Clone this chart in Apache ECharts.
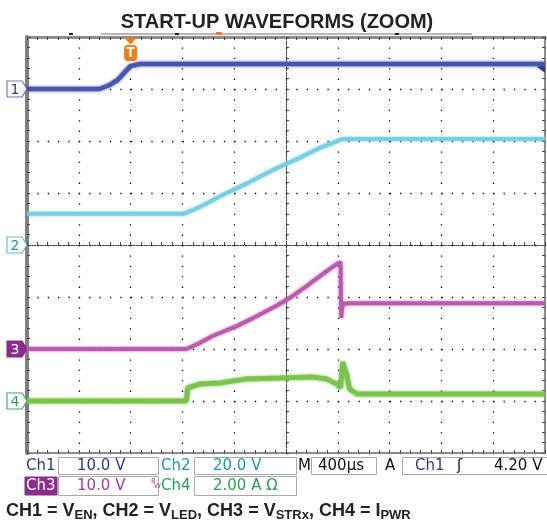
<!DOCTYPE html>
<html><head><meta charset="utf-8">
<script src="https://cdn.jsdelivr.net/npm/echarts@6/dist/echarts.min.js"></script>
<style>html,body{margin:0;padding:0;background:#fff}#c{width:547px;height:523px}</style>
</head><body><div id="c"></div>
<script>
// ---- data (time in µs relative to trigger, 400 µs/div) ----
const timeRangeUs = [-800, 3200];
const timePerDivUs = 400;

const ch1TimeUs = [-800, -240, -162, -100, -46, -2, 70, 3200];
const ch1Volts  = [0, 0, 0.77, 1.73, 3.2, 4.4, 4.8, 4.8];

const ch2TimeUs = [-800, 409, 533, 726, 919, 1112, 1305, 1459, 1575, 1637, 3200];
const ch2Volts  = [12, 12, 14.6, 19.6, 24.2, 29.2, 33.5, 37.3, 39.6, 40.8, 40.8];

const ch3TimeUs = [-800, 432, 533, 633, 819, 973, 1127, 1228, 1359, 1483, 1591, 1622, 1626, 1637, 1700, 3200];
const ch3Volts  = [0, 0, 1.15, 2.5, 4.4, 6.3, 8.3, 9.8, 12.1, 14.4, 16.3, 16.7, 6.0, 8.7, 8.8, 8.8];

const ch4TimeUs = [-800, 432, 440, 533, 687, 896, 1151, 1405, 1514, 1591, 1622, 1637, 1668, 1691, 1745, 3200];
const ch4Amps   = [0, 0, 0.5, 0.65, 0.69, 0.85, 0.88, 0.92, 0.85, 0.65, 0.5, 1.5, 1.04, 0.46, 0.27, 0.27];

const channelNames   = ['Ch1', 'Ch2', 'Ch3', 'Ch4'];
const channelPerDiv  = [10, 20, 10, 2];      // V/div, V/div, V/div, A/div
const channelGround  = [3, 0, -2, -3];       // ground marker position (div from centre)
const triggerLevelV  = 4.20;                  // Ch1 rising edge

const infoRow1 = ['Ch1', '10.0 V', 'Ch2', '20.0 V', 'M', '400µs', 'A', 'Ch1', 'ʃ', '4.20 V'];
const infoRow2 = ['Ch3', '10.0 V', 'Ch4', '2.00 A Ω'];

// ---- styling ----
const traceColors = ['#4453ab', '#74cde0', '#b857ac', '#78c24a'];
const traceWidths = [4.5, 4, 4, 5];
const markerFill  = ['#fff', '#fff', '#8b2b8c', '#fff'];
const markerStroke= ['#6a74c0', '#5bbfc4', '#8b2b8c', '#3aaa6a'];
const markerText  = ['#2b3a8f', '#1a9aa0', '#fff', '#2a9e5a'];

const chTimes = [ch1TimeUs, ch2TimeUs, ch3TimeUs, ch4TimeUs];
const chVals  = [ch1Volts, ch2Volts, ch3Volts, ch4Amps];

const G = {left: 27, top: 37, width: 518, height: 416};
const pent = 'path://M0,0L15,0L20,8L15,16L0,16Z';

const series = chTimes.map((ts, i) => {
  const s = {
    name: channelNames[i], type: 'line', xAxisIndex: 0, yAxisIndex: 0,
    showSymbol: false, symbol: 'none', clip: true, z: 5 + i,
    data: ts.map((t, k) => [t, channelGround[i] + chVals[i][k] / channelPerDiv[i]]),
    lineStyle: {color: traceColors[i], width: traceWidths[i], opacity: 0.9,
      shadowColor: traceColors[i], shadowBlur: 3},
    markPoint: {
      silent: true, animation: false,
      data: [{
        coord: [timeRangeUs[0], channelGround[i]], symbol: pent, symbolSize: [20, 16],
        symbolOffset: [-10, 0], symbolKeepAspect: false,
        itemStyle: {color: markerFill[i], borderColor: markerStroke[i], borderWidth: 1},
        label: {show: true, position: 'inside', formatter: String(i + 1), color: markerText[i],
          fontSize: 14, fontFamily: 'DejaVu Sans', offset: [-2, 1]}
      }]
    }
  };
  if (i === 0) {
    s.markPoint.data.push(
      {coord: [0, 4], symbol: 'triangle', symbolRotate: 180, symbolSize: [13, 7], symbolOffset: [0, 4],
        itemStyle: {color: '#f07d1a'}, label: {show: false}},
      {coord: [0, 4], symbol: 'roundRect', symbolSize: [13, 16], symbolOffset: [0, 16],
        itemStyle: {color: '#f07d1a'},
        label: {show: true, position: 'inside', formatter: 'T', color: '#fff', fontSize: 14,
          fontWeight: 'bold', fontFamily: 'Liberation Sans'}},
      {coord: [timeRangeUs[1], channelGround[0] + triggerLevelV / channelPerDiv[0]], symbol: 'triangle',
        symbolRotate: 90, symbolSize: [11, 8], symbolOffset: [-4, 0],
        itemStyle: {color: '#2b3a8f'}, label: {show: false}}
    );
  }
  return s;
});

const dotsH = {color: '#000', width: 1.3, type: [1.3, 9.06], opacity: 1};
const dotsV = {color: '#000', width: 1.3, type: [1.3, 9.1], opacity: 1};
const tickSt = {color: '#444', width: 1};
const centerSt = {color: '#333', width: 1, type: [1, 1.6]};

const xBase = {type: 'value', min: timeRangeUs[0], max: timeRangeUs[1], interval: timePerDivUs,
  axisLabel: {show: false}, gridIndex: 0};
const yBase = {type: 'value', min: -4, max: 4, interval: 1, axisLabel: {show: false}, gridIndex: 0};

const option = {
  animation: false,
  backgroundColor: '#fff',
  grid: [Object.assign({outerBoundsMode: 'none', containLabel: false}, G),
         Object.assign({outerBoundsMode: 'none', containLabel: false}, G)],
  xAxis: [
    Object.assign({}, xBase, {position: 'bottom',
      axisLine: {show: true, onZero: false, lineStyle: {color: '#8c8c8c', width: 2}},
      axisTick: {show: true, inside: true, length: 3, lineStyle: tickSt},
      minorTick: {show: true, splitNumber: 5, length: 3, lineStyle: tickSt},
      splitLine: {show: true, lineStyle: dotsV}}),
    Object.assign({}, xBase, {position: 'top',
      axisLine: {show: true, onZero: false, lineStyle: {color: '#8c8c8c', width: 3}},
      axisTick: {show: true, inside: true, length: 3, lineStyle: tickSt},
      minorTick: {show: true, splitNumber: 5, length: 3, lineStyle: tickSt},
      splitLine: {show: false}}),
    {type: 'value', gridIndex: 1, min: -5, max: 5, interval: 1, axisLabel: {show: false},
      axisLine: {show: true, onZero: true, onZeroAxisIndex: 2, lineStyle: centerSt},
      axisTick: {show: true, inside: true, length: 3, lineStyle: tickSt},
      minorTick: {show: true, splitNumber: 5, length: 3, lineStyle: tickSt},
      splitLine: {show: false}},
    {type: 'value', gridIndex: 1, min: -5, max: 5, interval: 1, axisLabel: {show: false}, position: 'top',
      axisLine: {show: true, onZero: true, onZeroAxisIndex: 2, lineStyle: centerSt},
      axisTick: {show: true, inside: false, length: 3, lineStyle: tickSt},
      minorTick: {show: true, splitNumber: 5, length: 3, lineStyle: tickSt},
      splitLine: {show: false}}
  ],
  yAxis: [
    Object.assign({}, yBase, {position: 'left',
      axisLine: {show: true, onZero: false, lineStyle: {color: '#808080', width: 4}},
      axisTick: {show: true, inside: true, length: 3, lineStyle: tickSt},
      minorTick: {show: true, splitNumber: 5, length: 3, lineStyle: tickSt},
      splitLine: {show: true, lineStyle: dotsH}}),
    Object.assign({}, yBase, {position: 'right',
      axisLine: {show: true, onZero: false, lineStyle: {color: '#8c8c8c', width: 2}},
      axisTick: {show: true, inside: true, length: 3, lineStyle: tickSt},
      minorTick: {show: true, splitNumber: 5, length: 3, lineStyle: tickSt},
      splitLine: {show: false}}),
    {type: 'value', gridIndex: 1, min: -4, max: 4, interval: 1, axisLabel: {show: false},
      axisLine: {show: true, onZero: true, onZeroAxisIndex: 2, lineStyle: centerSt},
      axisTick: {show: true, inside: true, length: 3, lineStyle: tickSt},
      minorTick: {show: true, splitNumber: 5, length: 3, lineStyle: tickSt},
      splitLine: {show: false}},
    {type: 'value', gridIndex: 1, min: -4, max: 4, interval: 1, axisLabel: {show: false}, position: 'right',
      axisLine: {show: true, onZero: true, onZeroAxisIndex: 2, lineStyle: centerSt},
      axisTick: {show: true, inside: false, length: 3, lineStyle: tickSt},
      minorTick: {show: true, splitNumber: 5, length: 3, lineStyle: tickSt},
      splitLine: {show: false}}
  ],
  series: series,
  graphic: buildGraphics()
};

function txt(x, y, s, color, size, extra) {
  return Object.assign({type: 'text', x: x, y: y, silent: true, z: 10,
    style: {text: s, fill: color, font: (size || 15) + 'px "DejaVu Sans"', textVerticalAlign: 'middle'}}, extra || {});
}
function box(x, y, w, h, fill, stroke) {
  return {type: 'rect', silent: true, z: 9, shape: {x: x, y: y, width: w, height: h},
    style: {fill: fill || 'none', stroke: stroke || '#a8a8a8', lineWidth: 1}};
}

function buildGraphics() {
  const r1 = 466, r2 = 486;
  const g = [];
  g.push({type: 'text', x: 277, y: 22, silent: true,
    style: {text: 'START-UP WAVEFORMS (ZOOM)', fill: '#222', font: 'bold 20px "Liberation Sans"',
      textAlign: 'center', textVerticalAlign: 'middle'}});
  g.push({type: 'rect', silent: true, shape: {x: 101, y: 33, width: 371, height: 2}, style: {fill: '#b8b8b8'}});
  g.push({type: 'rect', silent: true, shape: {x: 69, y: 33, width: 4, height: 2}, style: {fill: '#222'}});
  g.push({type: 'rect', silent: true, shape: {x: 175, y: 33, width: 4, height: 2}, style: {fill: '#222'}});
  g.push({type: 'rect', silent: true, shape: {x: 395, y: 33, width: 4, height: 2}, style: {fill: '#222'}});
  g.push({type: 'rect', silent: true, shape: {x: 216, y: 32, width: 6, height: 3}, style: {fill: '#f07d1a'}});

  g.push(box(58.5, 457.5, 100, 17));
  g.push(box(194.5, 457.5, 102, 17));
  g.push(box(311.5, 457.5, 65, 17));
  g.push(box(402.5, 457.5, 150, 17));
  g.push(txt(26, r1, infoRow1[0], '#2b3a8f'));
  g.push(txt(77, r1, infoRow1[1], '#2b3a8f'));
  g.push(txt(161, r1, infoRow1[2], '#1a9aa0'));
  g.push(txt(213, r1, infoRow1[3], '#1a9aa0'));
  g.push(txt(298, r1, infoRow1[4], '#111'));
  g.push(txt(318, r1, infoRow1[5], '#111'));
  g.push(txt(385, r1, infoRow1[6], '#111'));
  g.push(txt(415, r1, infoRow1[7], '#2b3a8f'));
  g.push(txt(457, r1, infoRow1[8], '#111'));
  g.push(txt(494, r1, infoRow1[9], '#111'));
  g.push(box(25, 477, 32, 18, '#8b2b8c', '#8b2b8c'));
  g.push(box(58.5, 476.5, 100, 19));
  g.push(box(194.5, 476.5, 102, 19));
  g.push(txt(26, r2, infoRow2[0], '#fff'));
  g.push(txt(77, r2, infoRow2[1], '#a53ca0'));
  g.push(txt(151, 481, 'B', '#a53ca0', 7));
  g.push(txt(154, 486, 'W', '#a53ca0', 7));
  g.push(txt(161, r2, infoRow2[2], '#27a055'));
  g.push(txt(213, r2, infoRow2[3], '#27a055'));

  g.push({type: 'text', x: 6, y: 511, silent: true,
    style: {
      text: '{a|CH1 = V}{s|EN}{a|, CH2 = V}{s|LED}{a|, CH3 = V}{s|STRx}{a|, CH4 = I}{s|PWR}',
      textVerticalAlign: 'middle',
      rich: {
        a: {fontSize: 18, fontWeight: 'bold', fontFamily: 'Liberation Sans', fill: '#222', lineHeight: 22},
        s: {fontSize: 13, fontWeight: 'bold', fontFamily: 'Liberation Sans', fill: '#222', lineHeight: 13, verticalAlign: 'bottom'}
      }
    }});
  return g;
}

const chart = echarts.init(document.getElementById('c'));
chart.setOption(option);
</script>
</body></html>
